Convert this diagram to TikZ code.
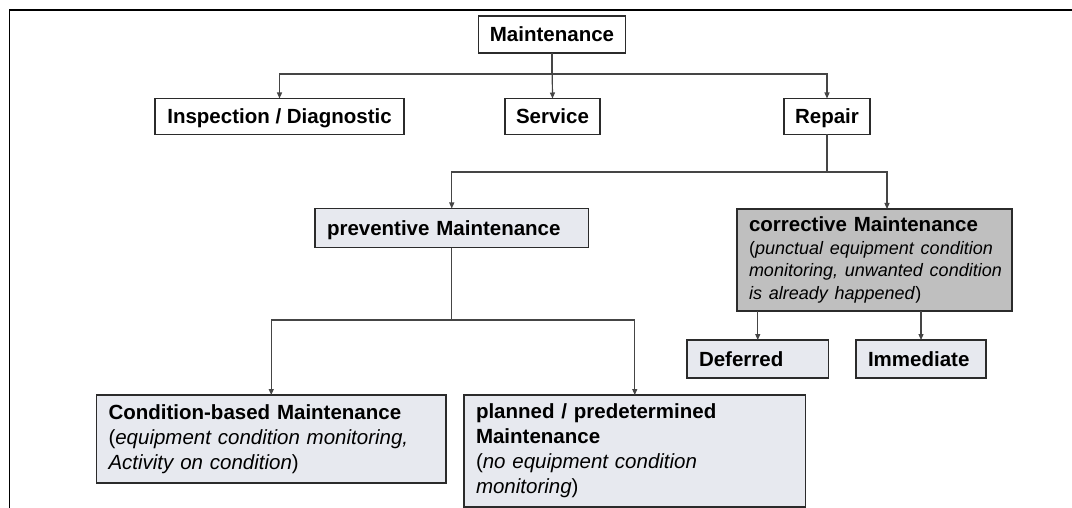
\documentclass[tikz,border=0pt]{standalone}
\usepackage{fontspec}
\setmainfont{Liberation Sans}
\usetikzlibrary{arrows.meta}
\definecolor{paleblue}{HTML}{E7E9EF}
\definecolor{midgray}{HTML}{BFBFBF}
\definecolor{boxline}{HTML}{2B2B2B}
\definecolor{wireline}{HTML}{454545}
\newcommand\bodysize{\fontsize{20.5}{25}\selectfont}
\newcommand\notesize{\fontsize{18}{22.5}\selectfont}
\begin{document}
\begin{tikzpicture}[x=1pt,y=-1pt,
  box/.style={draw=boxline, line width=1.8pt, anchor=north west, inner sep=0pt, outer sep=0pt, font=\bodysize\bfseries},
  % single-line labels: centre the capitals vertically in the box
  oneline/.style={text height=15pt, text depth=0.5pt},
  whitebox/.style={box, oneline, fill=white, align=center},
  palebox/.style={box, fill=paleblue, align=left, inner xsep=12pt},
  wire/.style={draw=wireline, line width=1.2pt, -{Triangle[length=6pt,width=5pt]}},
]
\fill[white] (0,0) rectangle (1072,508);
\useasboundingbox (0,0) rectangle (1072,508);

% outer frame (top and left edges)
\draw[black, line width=1.4pt] (9.5,508) -- (9.5,10) -- (1072,10);

% first level
\node[whitebox, minimum width=147pt, minimum height=37pt] (main) at (478.5,16) {Maintenance};
\node[whitebox, minimum width=249pt, minimum height=36pt] (insp) at (155,98.5) {Inspection / Diagnostic};
\node[whitebox, minimum width=95pt, minimum height=36pt] (serv) at (505,98.5) {Service};
\node[whitebox, minimum width=86pt, minimum height=36pt] (rep) at (784,98.5) {Repair};

% second level
\node[palebox, oneline, text width=249.5pt, minimum height=39pt] (prev) at (315,208.5) {\mbox{preventive Maintenance}};
\node[palebox, fill=midgray, text width=251pt, minimum height=102pt,
      font=\fontsize{20.5}{22.5}\selectfont\bfseries] (corr) at (737,209)
  {\mbox{corrective Maintenance}\\
   \mbox{\mdseries\notesize(\textit{punctual equipment condition}}\\
   \mbox{\mdseries\notesize\textit{monitoring, unwanted condition}}\\
   \mbox{\mdseries\notesize\textit{is already happened})}};

% third level
\node[palebox, text width=325.5pt, minimum height=88pt] (cond) at (96.5,395)
  {\mbox{Condition-based Maintenance}\\
   \mbox{\mdseries(\textit{equipment condition monitoring,}}\\
   \mbox{\mdseries\textit{Activity on condition})}};
\node[palebox, text width=317.5pt, minimum height=112pt] (plan) at (464,395)
  {\mbox{planned / predetermined}\\
   \mbox{Maintenance}\\
   \mbox{\mdseries(\textit{no equipment condition}}\\
   \mbox{\mdseries\textit{monitoring})}};
\node[palebox, oneline, text width=117.5pt, minimum height=38pt] (def) at (687,340) {\mbox{Deferred}};
\node[palebox, oneline, text width=106pt, minimum height=38pt] (imm) at (856,340) {\mbox{Immediate}};

% connectors
\coordinate (y1) at (0,74);
\coordinate (y2) at (0,172);
\coordinate (y3) at (0,320);
\coordinate (xc) at (887,0);

\draw[wire] (main.south) -- (serv.north);
\draw[wire] (main.south) |- (insp.north |- y1) -- (insp.north);
\draw[wire] (main.south) |- (rep.north |- y1) -- (rep.north);
\draw[wire] (rep.south) |- (prev.north |- y2) -- (prev.north);
\draw[wire] (rep.south) |- (xc |- y2) -- (xc |- corr.north);
\draw[wire] (prev.south) |- (cond.north |- y3) -- (cond.north);
\draw[wire] (prev.south) |- (plan.north |- y3) -- (plan.north);
\draw[wire] (corr.south -| def.north) -- (def.north);
\draw[wire] (corr.south -| imm.north) -- (imm.north);
\end{tikzpicture}
\end{document}
